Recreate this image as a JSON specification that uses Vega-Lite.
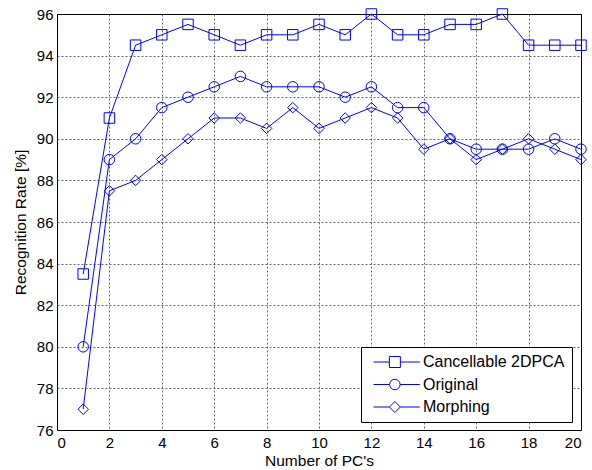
{
  "$schema": "https://vega.github.io/schema/vega-lite/v6.json",
  "width": 524,
  "height": 416,
  "autosize": {"type": "none"},
  "padding": {"left": 57, "top": 14, "right": 11, "bottom": 40},
  "background": "white",
  "config": {
    "font": "Liberation Sans",
    "view": {"stroke": "black", "strokeWidth": 1},
    "axis": {
      "labelFont": "Liberation Sans",
      "titleFont": "Liberation Sans",
      "labelFontSize": 15,
      "titleFontSize": 15.5,
      "labelColor": "black",
      "titleColor": "black",
      "titleFontWeight": "normal",
      "domain": false,
      "ticks": false,
      "gridColor": "black",
      "gridDash": [2, 2],
      "gridOpacity": 0.6,
      "gridWidth": 1
    }
  },
  "data": {
    "values": [
      {"pc": 1, "rate": 83.5, "series": "Cancellable 2DPCA"},
      {"pc": 2, "rate": 91, "series": "Cancellable 2DPCA"},
      {"pc": 3, "rate": 94.5, "series": "Cancellable 2DPCA"},
      {"pc": 4, "rate": 95, "series": "Cancellable 2DPCA"},
      {"pc": 5, "rate": 95.5, "series": "Cancellable 2DPCA"},
      {"pc": 6, "rate": 95, "series": "Cancellable 2DPCA"},
      {"pc": 7, "rate": 94.5, "series": "Cancellable 2DPCA"},
      {"pc": 8, "rate": 95, "series": "Cancellable 2DPCA"},
      {"pc": 9, "rate": 95, "series": "Cancellable 2DPCA"},
      {"pc": 10, "rate": 95.5, "series": "Cancellable 2DPCA"},
      {"pc": 11, "rate": 95, "series": "Cancellable 2DPCA"},
      {"pc": 12, "rate": 96, "series": "Cancellable 2DPCA"},
      {"pc": 13, "rate": 95, "series": "Cancellable 2DPCA"},
      {"pc": 14, "rate": 95, "series": "Cancellable 2DPCA"},
      {"pc": 15, "rate": 95.5, "series": "Cancellable 2DPCA"},
      {"pc": 16, "rate": 95.5, "series": "Cancellable 2DPCA"},
      {"pc": 17, "rate": 96, "series": "Cancellable 2DPCA"},
      {"pc": 18, "rate": 94.5, "series": "Cancellable 2DPCA"},
      {"pc": 19, "rate": 94.5, "series": "Cancellable 2DPCA"},
      {"pc": 20, "rate": 94.5, "series": "Cancellable 2DPCA"},
      {"pc": 1, "rate": 80, "series": "Original"},
      {"pc": 2, "rate": 89, "series": "Original"},
      {"pc": 3, "rate": 90, "series": "Original"},
      {"pc": 4, "rate": 91.5, "series": "Original"},
      {"pc": 5, "rate": 92, "series": "Original"},
      {"pc": 6, "rate": 92.5, "series": "Original"},
      {"pc": 7, "rate": 93, "series": "Original"},
      {"pc": 8, "rate": 92.5, "series": "Original"},
      {"pc": 9, "rate": 92.5, "series": "Original"},
      {"pc": 10, "rate": 92.5, "series": "Original"},
      {"pc": 11, "rate": 92, "series": "Original"},
      {"pc": 12, "rate": 92.5, "series": "Original"},
      {"pc": 13, "rate": 91.5, "series": "Original"},
      {"pc": 14, "rate": 91.5, "series": "Original"},
      {"pc": 15, "rate": 90, "series": "Original"},
      {"pc": 16, "rate": 89.5, "series": "Original"},
      {"pc": 17, "rate": 89.5, "series": "Original"},
      {"pc": 18, "rate": 89.5, "series": "Original"},
      {"pc": 19, "rate": 90, "series": "Original"},
      {"pc": 20, "rate": 89.5, "series": "Original"},
      {"pc": 1, "rate": 77, "series": "Morphing"},
      {"pc": 2, "rate": 87.5, "series": "Morphing"},
      {"pc": 3, "rate": 88, "series": "Morphing"},
      {"pc": 4, "rate": 89, "series": "Morphing"},
      {"pc": 5, "rate": 90, "series": "Morphing"},
      {"pc": 6, "rate": 91, "series": "Morphing"},
      {"pc": 7, "rate": 91, "series": "Morphing"},
      {"pc": 8, "rate": 90.5, "series": "Morphing"},
      {"pc": 9, "rate": 91.5, "series": "Morphing"},
      {"pc": 10, "rate": 90.5, "series": "Morphing"},
      {"pc": 11, "rate": 91, "series": "Morphing"},
      {"pc": 12, "rate": 91.5, "series": "Morphing"},
      {"pc": 13, "rate": 91, "series": "Morphing"},
      {"pc": 14, "rate": 89.5, "series": "Morphing"},
      {"pc": 15, "rate": 90, "series": "Morphing"},
      {"pc": 16, "rate": 89, "series": "Morphing"},
      {"pc": 17, "rate": 89.5, "series": "Morphing"},
      {"pc": 18, "rate": 90, "series": "Morphing"},
      {"pc": 19, "rate": 89.5, "series": "Morphing"},
      {"pc": 20, "rate": 89, "series": "Morphing"}
    ]
  },
  "encoding": {
    "x": {
      "field": "pc", "type": "quantitative",
      "scale": {"domain": [0, 20], "nice": false},
      "axis": {"values": [0, 2, 4, 6, 8, 10, 12, 14, 16, 18, 20], "title": "Number of PC's", "labelPadding": 5, "titlePadding": 3}
    },
    "y": {
      "field": "rate", "type": "quantitative",
      "scale": {"domain": [76, 96], "nice": false, "zero": false},
      "axis": {"values": [76, 78, 80, 82, 84, 86, 88, 90, 92, 94, 96], "title": "Recognition Rate [%]", "labelPadding": 4, "titlePadding": 8}
    }
  },
  "layer": [
    {
      "mark": {"type": "line", "color": "#0000ff", "strokeWidth": 1},
      "encoding": {"detail": {"field": "series"}}
    },
    {
      "mark": {"type": "point", "filled": false, "color": "#0000ff", "strokeWidth": 1, "opacity": 1},
      "encoding": {
        "shape": {
          "field": "series", "type": "nominal",
          "scale": {"domain": ["Cancellable 2DPCA", "Original", "Morphing"], "range": ["square", "circle", "diamond"]},
          "legend": null
        },
        "size": {"value": 110}
      }
    },
    {
      "mark": {"type": "point", "filled": false, "color": "#0000ff", "strokeWidth": 1, "opacity": 0},
      "encoding": {
        "shape": {
          "field": "series", "type": "nominal",
          "scale": {
            "domain": ["Cancellable 2DPCA", "Original", "Morphing"],
            "range": [
              "M-1,0M-0.45,0H2.43M4.43,0H7.97M2.43,-1H4.43V1H2.43Z",
              "M-1,0M-0.45,0H2.48M4.38,0H7.97M2.48,0A0.95,0.95 0 1,0 4.38,0A0.95,0.95 0 1,0 2.48,0Z",
              "M-1,0M-0.45,0H2.43M4.43,0H7.97M2.43,0L3.43,-1L4.43,0L3.43,1Z"
            ]
          },
          "legend": {
            "title": null,
            "orient": "none",
            "legendX": 304,
            "legendY": 333,
            "direction": "vertical",
            "strokeColor": "black",
            "fillColor": "white",
            "padding": 7,
            "symbolSize": 121,
            "symbolStrokeColor": "#0000ff",
            "symbolStrokeWidth": 1,
            "symbolFillColor": "transparent",
            "symbolOpacity": 1,
            "labelFont": "Liberation Sans",
            "labelFontSize": 16,
            "labelColor": "black",
            "labelOffset": 39,
            "rowPadding": 6.5,
            "labelLimit": 200,
            "encode": {"symbols": {"update": {"opacity": {"value": 1}, "fill": {"value": "transparent"}, "stroke": {"value": "#0000ff"}}}}
          }
        }
      }
    }
  ],
  "resolve": {"scale": {"shape": "independent"}}
}
